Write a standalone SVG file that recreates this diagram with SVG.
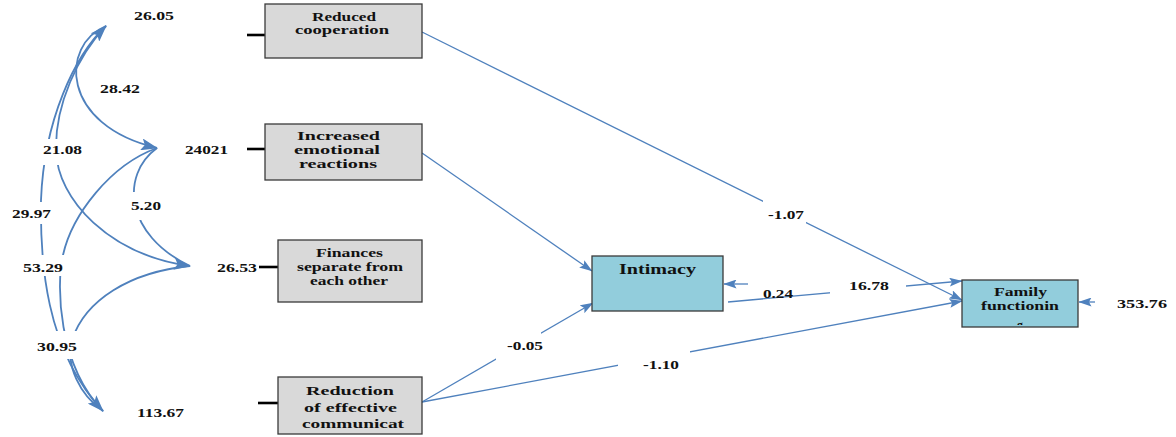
<svg xmlns="http://www.w3.org/2000/svg" width="1176" height="437" viewBox="0 0 1176 437">
<style>
.box{fill:#d9d9d9;stroke:#3a3a3a;stroke-width:1.3}
.blue{fill:#92cddc;stroke:#3a3a3a;stroke-width:1.3}
.t{font-family:"Liberation Serif","Times New Roman",serif;font-weight:bold;font-size:12px;fill:#111}
.lb{font-family:"Liberation Serif","Times New Roman",serif;font-weight:bold;font-size:12.5px;fill:#111}
.cv{fill:none;stroke:#4f81bd;stroke-width:1.8}
.ln{fill:none;stroke:#4f81bd;stroke-width:1.3}
.dash{stroke:#000;stroke-width:2.6}
.bg{fill:#fff}
</style>
<defs>
<marker id="ah" markerUnits="userSpaceOnUse" markerWidth="17" markerHeight="12" refX="16" refY="6" orient="auto-start-reverse">
<path d="M0,0 L17,6 L0,12 L3.5,6 z" fill="#4f81bd"/>
</marker>
<marker id="as" markerUnits="userSpaceOnUse" markerWidth="13" markerHeight="9" refX="12.5" refY="4.5" orient="auto">
<path d="M0,0 L13,4.5 L0,9 L2.5,4.5 z" fill="#4f81bd"/>
</marker>
<clipPath id="ffclip"><rect x="962" y="280" width="116" height="45"/></clipPath>
</defs>

<g id="connectors">
<path class="cv" d="M106,26 C60,45 60,125 157,148" marker-end="url(#ah)"/>
<path class="cv" d="M106,26 C78,55 55,105 56,150 C57,200 110,255 190,266" marker-start="url(#ah)" marker-end="url(#ah)"/>
<path class="cv" d="M106,26 C75,55 44,120 41,200 C40,260 45,350 103,411" marker-end="url(#ah)"/>
<path class="cv" d="M157,148 C120,175 125,235 190,266"/>
<path class="cv" d="M157,148 C110,165 72,215 63,255 C56,285 58,365 103,411"/>
<path class="cv" d="M190,266 C130,272 85,300 72,340 C65,365 80,395 103,411"/>
<path class="ln" d="M422,32 L962,300" marker-end="url(#as)"/>
<path class="ln" d="M422,153 L592,271" marker-end="url(#as)"/>
<path class="ln" d="M422,402 L593,303" marker-end="url(#as)"/>
<path class="ln" d="M422,402 L962,301" marker-end="url(#as)"/>
<path class="ln" d="M748,284 L724,284" marker-end="url(#as)"/>
<path class="ln" d="M728,302 L962,281" marker-end="url(#as)"/>
<path class="ln" d="M1095,302 L1079,302" marker-end="url(#as)"/>
</g>

<g id="n1">
<line class="dash" x1="247" y1="35" x2="265" y2="35"/>
<rect class="box" x="265" y="4" width="157" height="54"/>
<text class="t" x="312" y="21" textLength="64" lengthAdjust="spacingAndGlyphs">Reduced</text>
<text class="t" x="295" y="34" textLength="94" lengthAdjust="spacingAndGlyphs">cooperation</text>
</g>
<g id="n2">
<line class="dash" x1="247" y1="149" x2="265" y2="149"/>
<rect class="box" x="265" y="124" width="157" height="56"/>
<text class="t" x="297" y="140" textLength="83" lengthAdjust="spacingAndGlyphs">Increased</text>
<text class="t" x="294" y="154" textLength="86" lengthAdjust="spacingAndGlyphs">emotional</text>
<text class="t" x="299" y="168" textLength="78" lengthAdjust="spacingAndGlyphs">reactions</text>
</g>
<g id="n3">
<line class="dash" x1="259" y1="267" x2="278" y2="267"/>
<rect class="box" x="278" y="240" width="144" height="62"/>
<text class="t" x="316" y="257" textLength="67" lengthAdjust="spacingAndGlyphs">Finances</text>
<text class="t" x="297" y="271" textLength="106" lengthAdjust="spacingAndGlyphs">separate from</text>
<text class="t" x="310" y="285" textLength="78" lengthAdjust="spacingAndGlyphs">each other</text>
</g>
<g id="n4">
<line class="dash" x1="258" y1="403" x2="278" y2="403"/>
<rect class="box" x="278" y="377" width="144" height="57"/>
<text class="t" x="306" y="395" style="font-size:13px" textLength="88" lengthAdjust="spacingAndGlyphs">Reduction</text>
<text class="t" x="304" y="412" style="font-size:13px" textLength="93" lengthAdjust="spacingAndGlyphs">of effective</text>
<text class="t" x="302" y="428" style="font-size:13px" textLength="102" lengthAdjust="spacingAndGlyphs">communicat</text>
</g>
<g id="n5">
<rect class="blue" x="592" y="256" width="131" height="55"/>
<text class="t" x="619" y="274" style="font-size:14.5px" textLength="77" lengthAdjust="spacingAndGlyphs">Intimacy</text>
</g>
<g id="n6">
<rect class="blue" x="962" y="280" width="116" height="47"/>
<text class="t" x="994" y="296" textLength="53" lengthAdjust="spacingAndGlyphs">Family</text>
<text class="t" x="981" y="310" textLength="78" lengthAdjust="spacingAndGlyphs">functionin</text>
<text class="t" x="1017" y="329" clip-path="url(#ffclip)">g</text>
</g>

<g id="labels">
<rect class="bg" x="40" y="139" width="45" height="26"/>
<rect class="bg" x="10" y="202" width="44" height="22"/>
<rect class="bg" x="20" y="255" width="46" height="21"/>
<rect class="bg" x="35" y="331" width="45" height="28"/>
<rect class="bg" x="125" y="192" width="40" height="28"/>
<rect class="bg" x="763" y="200" width="43" height="26"/>
<rect class="bg" x="830" y="279" width="76" height="18"/>
<rect class="bg" x="496" y="332" width="45" height="29"/>
<rect class="bg" x="618" y="350" width="72" height="22"/>
<text class="lb" x="134" y="19.5" textLength="40" lengthAdjust="spacingAndGlyphs">26.05</text>
<text class="lb" x="100" y="93" textLength="40" lengthAdjust="spacingAndGlyphs">28.42</text>
<text class="lb" x="43" y="154" textLength="39" lengthAdjust="spacingAndGlyphs">21.08</text>
<text class="lb" x="185" y="154" textLength="43" lengthAdjust="spacingAndGlyphs">24021</text>
<text class="lb" x="131" y="209.5" textLength="30" lengthAdjust="spacingAndGlyphs">5.20</text>
<text class="lb" x="12" y="218" textLength="39" lengthAdjust="spacingAndGlyphs">29.97</text>
<text class="lb" x="23" y="272" textLength="40" lengthAdjust="spacingAndGlyphs">53.29</text>
<text class="lb" x="217" y="272" textLength="40" lengthAdjust="spacingAndGlyphs">26.53</text>
<text class="lb" x="37" y="351" textLength="40" lengthAdjust="spacingAndGlyphs">30.95</text>
<text class="lb" x="137" y="417" textLength="47" lengthAdjust="spacingAndGlyphs">113.67</text>
<text class="lb" x="768" y="218.5" textLength="36" lengthAdjust="spacingAndGlyphs">-1.07</text>
<text class="lb" x="849" y="290" textLength="40" lengthAdjust="spacingAndGlyphs">16.78</text>
<text class="lb" x="763" y="298" textLength="30" lengthAdjust="spacingAndGlyphs">0.24</text>
<text class="lb" x="507" y="350" textLength="36" lengthAdjust="spacingAndGlyphs">-0.05</text>
<text class="lb" x="643" y="369" textLength="36" lengthAdjust="spacingAndGlyphs">-1.10</text>
<text class="lb" x="1117" y="308" textLength="50" lengthAdjust="spacingAndGlyphs">353.76</text>
</g>
</svg>
